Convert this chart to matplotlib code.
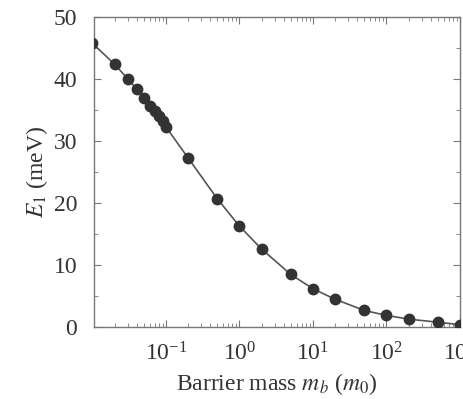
import matplotlib
matplotlib.use("Agg")
import matplotlib.pyplot as plt
from matplotlib.ticker import LogLocator, MultipleLocator, NullFormatter

plt.rcParams['font.family'] = ['Liberation Serif', 'DejaVu Serif']
plt.rcParams['mathtext.fontset'] = 'stix'

mass = [0.01, 0.02, 0.03, 0.04, 0.05, 0.06, 0.07, 0.08, 0.09, 0.1,
        0.2, 0.5, 1, 2, 5, 10, 20, 50, 100, 200, 500, 1000]
energy = [45.8, 42.4, 40.1, 38.4, 36.9, 35.6, 34.8, 34.0, 33.2, 32.3,
          27.3, 20.7, 16.3, 12.6, 8.5, 6.2, 4.5, 2.7, 1.9, 1.3, 0.8, 0.4]

fig = plt.figure(figsize=(4.63, 3.99), dpi=100)
ax = fig.add_axes([0.203, 0.180, 0.7905, 0.777])

ax.plot(mass, energy, '-', color='#555555', lw=1.2, zorder=2)
ax.plot(mass, energy, 'o', color='#333333', ms=7.5, zorder=3)

ax.set_xscale('log')
ax.set_xlim(0.0105, 1000)
ax.set_ylim(0, 50)
ax.yaxis.set_major_locator(MultipleLocator(10))
ax.yaxis.set_minor_locator(MultipleLocator(5))
ax.xaxis.set_major_locator(LogLocator(base=10, numticks=10))
ax.xaxis.set_minor_locator(LogLocator(base=10, subs=range(2, 10), numticks=20))
ax.xaxis.set_minor_formatter(NullFormatter())

for s in ax.spines.values():
    s.set_color('#777777')
    s.set_linewidth(1.0)

ax.tick_params(which='both', direction='in', top=True, right=True,
               colors='#777777', labelcolor='#333333', labelsize=17)
ax.tick_params(which='major', length=5)
ax.tick_params(which='minor', length=3)
ax.tick_params(axis='x', pad=11)
ax.tick_params(axis='y', pad=12)

ax.set_xlabel('Barrier mass $m_b$ ($m_0$)', fontsize=17, color='#333333', labelpad=4)
ax.set_ylabel('$E_1$ (meV)', fontsize=17, color='#333333', labelpad=3)

fig.savefig('out.png', dpi=100)
